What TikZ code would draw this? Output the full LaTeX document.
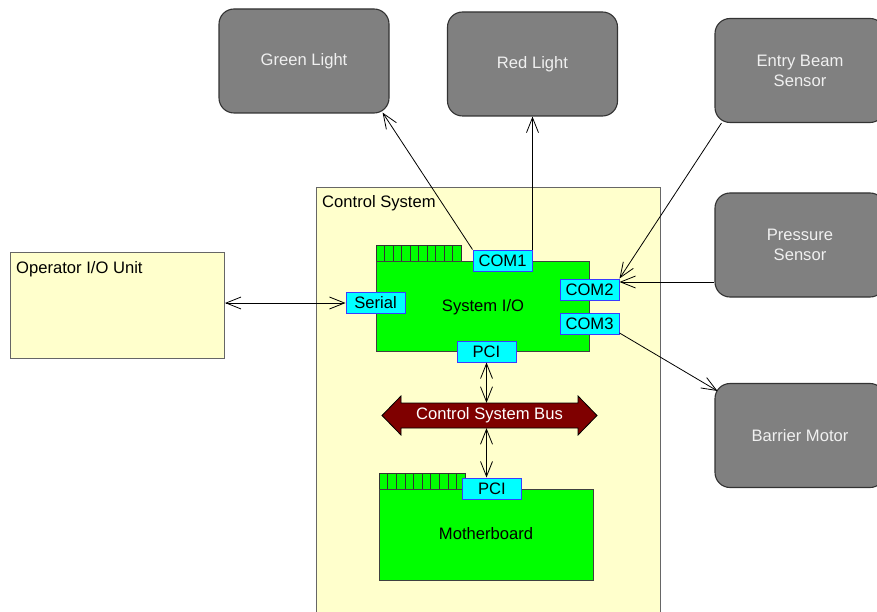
\documentclass[tikz,border=0pt]{standalone}
\usepackage{fontspec}
\setmainfont{Liberation Sans}
\usetikzlibrary{arrows.meta}
\definecolor{paleyellow}{HTML}{FFFFCC}
\definecolor{cardgreen}{HTML}{00FF00}
\definecolor{portcyan}{HTML}{00FFFF}
\definecolor{portblue}{HTML}{3A3AFF}
\definecolor{boxgray}{HTML}{808080}
\definecolor{busred}{HTML}{7F0000}
\definecolor{framegray}{HTML}{666666}
\begin{document}
\begin{tikzpicture}[x=1pt,y=-1pt,
  font=\fontsize{16.6}{20}\selectfont,
  ext/.style={draw=black!80, line width=1.1pt, fill=boxgray, rounded corners=15pt,
    minimum width=170pt, minimum height=104pt, inner sep=0pt, text=white!94!black, align=center},
  panel/.style={draw=framegray, line width=1pt, fill=paleyellow},
  card/.style={draw=black!75, line width=1pt, fill=cardgreen, inner sep=0pt},
  port/.style={draw=portblue, line width=1pt, fill=portcyan, minimum width=59pt,
    minimum height=21pt, inner sep=0pt},
  pins/.style={draw=black!80, line width=0.6pt, fill=cardgreen},
  arr/.style={line width=0.8pt, -{Straight Barb[length=15pt,width=12pt]}},
  darr/.style={line width=0.8pt, {Straight Barb[length=15pt,width=12pt]}-{Straight Barb[length=15pt,width=12pt]}},
  busshape/.style={draw=black, line width=0.8pt, fill=busred}
]
\useasboundingbox[fill=white] (0,0) rectangle (877,612);

% external devices
\node[ext] (green) at (304,61) {Green Light};
\node[ext] (red) at (532.5,64) {Red Light};
\node[ext] (entry) at (800,70.5) {Entry Beam\\Sensor};
\node[ext] (pressure) at (800,245) {Pressure\\Sensor};
\node[ext] (barrier) at (800,435.5) {Barrier Motor};

% operator unit
\node[panel, minimum width=214pt, minimum height=106pt, anchor=north west, inner sep=0pt] (op) at (10,252) {};
\node[anchor=base west, inner sep=0pt] (oplabel) at (16,273) {Operator I/O Unit};

% control system frame
\node[panel, minimum width=344pt, minimum height=460pt, anchor=north west, inner sep=0pt] (cs) at (316,187) {};
\node[anchor=base west, inner sep=0pt] (cslabel) at (322,208) {Control System};

% System I/O card
\draw[pins] (376,245) rectangle (461,261);
\foreach \i in {1,...,9} { \draw[line width=0.6pt, black!80] (376+8.5*\i,245) -- (376+8.5*\i,261); }
\node[card, minimum width=213pt, minimum height=90pt, anchor=north west] (sysio) at (376,261) {};
\node (sysiolabel) at (483,307) {System I/O};

% Motherboard card
\draw[pins] (379,473) rectangle (465,489);
\foreach \i in {1,...,9} { \draw[line width=0.6pt, black!80] (379+8.6*\i,473) -- (379+8.6*\i,489); }
\node[card, minimum width=214pt, minimum height=91pt, anchor=north west] (mb) at (379,489) {};
\node (mblabel) at (486,534) {Motherboard};

% ports
\node[port] (com1) at (502.5,260.5) {COM1};
\node[port] (com2) at (589.5,289.5) {COM2};
\node[port] (com3) at (589.5,324) {COM3};
\node[port] (serial) at (375.5,303) {Serial};
\node[port] (syspci) at (486.5,351.5) {PCI};
\node[port] (mbpci) at (492,488.5) {PCI};

% bus
\draw[busshape] (382,415.5) -- (401,396) -- (401,403) -- (578,403) -- (578,396) -- (597,415.5)
  -- (578,435) -- (578,428) -- (401,428) -- (401,435) -- cycle;
\node[text=white, minimum width=177pt, minimum height=25pt, inner sep=0pt] (bus) at (489.5,415.5) {Control System Bus};

% connectors
\draw[arr] (com1.north west) -- ([xshift=-7pt,yshift=1pt]green.south east);
\draw[arr] (com1.north east) -- (com1.north east |- red.south);
\draw[arr] ([xshift=7pt]entry.south west) -- (com2.north east);
\draw[arr] ([yshift=7.5pt]com2.east -| pressure.west) -- ([yshift=7.5pt]com2.east);
\draw[arr] ([yshift=2pt]com3.south east) -- ([xshift=3pt,yshift=-8pt]barrier.north west);
\draw[darr] (op.east |- serial.west) -- (serial.west);
\draw[darr] (syspci.south) -- (syspci.south |- bus.north);
\draw[darr] (bus.south -| syspci.south) -- (mbpci.north -| syspci.south);
\end{tikzpicture}
\end{document}
